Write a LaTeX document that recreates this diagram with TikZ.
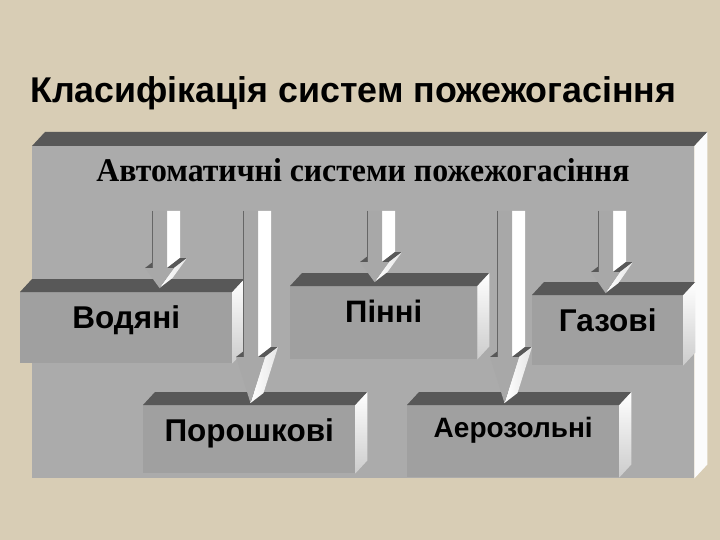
\documentclass[tikz,border=0pt]{standalone}
\usepackage{fontspec}
\setmainfont{Liberation Sans}
\newfontfamily\serifbf{Liberation Serif}
\usetikzlibrary{calc}
\definecolor{bgbeige}{HTML}{D8CDB5}
\definecolor{frontbig}{HTML}{ABABAB}
\definecolor{frontsmall}{HTML}{A0A0A0}
\definecolor{topdark}{HTML}{585858}
\definecolor{arrowfront}{HTML}{A8A8A8}
\tikzset{
  childfront/.style={fill=frontsmall, inner sep=0pt, anchor=north west},
  labeltext/.style={anchor=base, inner sep=0pt, font=\bfseries},
}
\newcommand\tdbox[8]{%
  \node[childfront, minimum width=#4pt, minimum height=#5pt] (#1) at (#2,#3) {};
  \fill[topdark] (#1.north west) -- ++(12,-13) -- ($(#1.north east)+(12,-13)$) -- (#1.north east) -- cycle;
  \shade[top color=white, bottom color=gray!40] (#1.north east) -- ++(12,-13) -- ($(#1.south east)+(12,-13)$) -- (#1.south east) -- cycle;
  \node[labeltext, font=\fontsize{#7}{#7}\selectfont\bfseries] (#1-t) at ($(#1.north)+(0,#8)$) {#6};
}
\newcommand\tdarrow[5]{%
  \pgfmathsetmacro\ArR{#2+15}%
  \pgfmathsetmacro\ArC{#2+7.5}%
  \pgfmathsetmacro\ArWL{#2-7}%
  \pgfmathsetmacro\ArWR{#2+22}%
  \coordinate (#1-s) at (\ArC,#3);
  \coordinate (#1-t) at (\ArC,#5);
  \fill[topdark] (\ArWL,#4) -- (#2,#4) -- ++(13,-10) -- ++(-7,0) -- cycle;
  \fill[white] (\ArR,#3) -- ++(13,0) -- (\ArR+13,#4-10) -- (\ArR,#4) -- cycle;
  \fill[topdark] (\ArR,#4) -- (\ArWR,#4) -- ++(13,-10) -- (\ArR+13,#4-10) -- cycle;
  \shade[left color=white, right color=gray!20] (\ArWR,#4) -- (#1-t) -- ++(13,-10) -- (\ArWR+13,#4-10) -- cycle;
  \fill[arrowfront] (#2,#3) -- (\ArR,#3) -- (\ArR,#4) -- (\ArWR,#4) -- (#1-t) -- (\ArWL,#4) -- (#2,#4) -- cycle;
  \draw[gray!80!black, line width=0.6pt] (#2,#3) -- (#2,#4);
}
\begin{document}
\begin{tikzpicture}[x=1pt,y=-1pt]
\useasboundingbox (0,0) rectangle (720,540);
\fill[bgbeige] (0,0) rectangle (720,540);
% title
\node[anchor=base west, inner sep=0pt, font=\fontsize{32}{32}\selectfont\bfseries] (title) at (30,103) {\resizebox{646pt}{!}{Класифікація систем пожежогасіння}};
% big box
\node[fill=frontbig, inner sep=0pt, anchor=north west, minimum width=662pt, minimum height=332pt] (main) at (32,146) {};
\fill[topdark] (main.north west) -- ++(13,-14) -- ($(main.north east)+(13,-14)$) -- (main.north east) -- cycle;
\fill[white!97!gray] (main.north east) -- ++(13,-14) -- ($(main.south east)+(13,-14)$) -- (main.south east) -- cycle;
\node[anchor=base, inner sep=0pt, font=\serifbf\fontsize{33}{33}\selectfont\bfseries] (head) at (363,182) {\resizebox{533pt}{23pt}{Автоматичні системи пожежогасіння}};
% child boxes
\tdbox{vod}{20}{292}{212}{71}{Водяні}{31.5}{36}
\tdbox{pin}{290}{286}{187}{73}{Пінні}{31}{36}
\tdbox{gaz}{532}{295}{151}{70}{Газові}{31.5}{36}
\tdbox{por}{143}{405}{212}{68}{Порошкові}{31.5}{36}
\tdbox{aer}{407}{405}{212}{72}{Аерозольні}{28}{32}
% arrows
\tdarrow{a1}{152}{211}{268}{288}
\tdarrow{a2}{243}{211}{357}{403}
\tdarrow{a3}{367}{211}{262}{282}
\tdarrow{a4}{497}{211}{357}{403}
\tdarrow{a5}{598}{211}{272}{293}
\end{tikzpicture}
\end{document}
